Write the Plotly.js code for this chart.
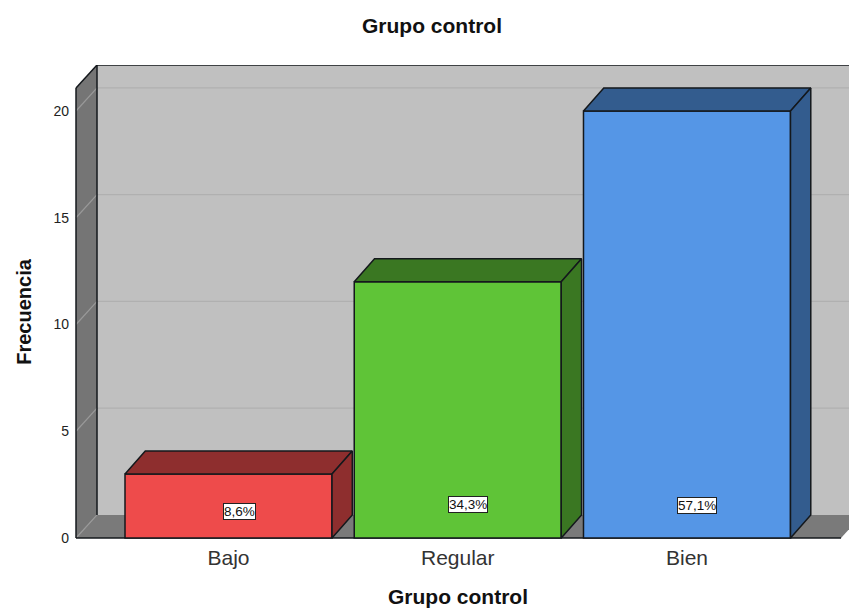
<!DOCTYPE html>
<html>
<head>
<meta charset="utf-8">
<script src="https://cdn.plot.ly/plotly-3.0.1.min.js"></script>
<style>html,body{margin:0;padding:0;background:#fff;overflow:hidden}</style>
</head>
<body>
<div id="chart" style="width:849px;height:608px"></div>
<script>
// Data
var categories = ['Bajo', 'Regular', 'Bien'];
var frequencies = [3, 12, 20];
var percentLabels = ['8,6%', '34,3%', '57,1%'];
var labelHeights = [1.26, 1.55, 1.5];
var yTicks = [0, 5, 10, 15, 20];
var frontColors = ['#EE4B4B', '#5FC437', '#5596E6'];
var sideColors = ['#8E2E2E', '#3A7722', '#335C8E'];

// Styling and pseudo-3D depth, in axis units
var FONT = '"Liberation Sans", Arial, sans-serif';
var barWidth = 0.903;
var depthX = 0.0916;
var barDepthX = 0.0885;
var depthY = 1.08;
var wallLeft = -0.6652;
var floorRight = 2.672;
var xMin = -0.7045, xMax = 2.7067;
var yMin = -0.984, yMax = 22.155;
var xIdx = categories.map(function (_, i) { return i; });

var traces = [{
  type: 'bar', x: xIdx, y: frequencies, width: barWidth,
  marker: { color: frontColors, line: { color: '#14181c', width: 1.5 } },
  hoverinfo: 'skip', showlegend: false
}];

function face(xs, ys, color) {
  return {
    type: 'scatter', mode: 'lines', x: xs, y: ys, fill: 'toself', fillcolor: color,
    line: { color: '#14181c', width: 1.5 }, hoverinfo: 'skip', showlegend: false
  };
}
frequencies.forEach(function (v, i) {
  var l = i - barWidth / 2, r = i + barWidth / 2;
  traces.push(face([l, l + barDepthX, r + barDepthX, r, l], [v, v + depthY, v + depthY, v, v], sideColors[i]));
  traces.push(face([r, r + barDepthX, r + barDepthX, r, r], [0, depthY, v + depthY, v, 0], sideColors[i]));
});

function poly(pts, fill, lineColor, lineWidth) {
  var d = pts.map(function (p, i) { return (i ? 'L' : 'M') + p[0] + ',' + p[1]; }).join(' ') + ' Z';
  return { type: 'path', path: d, xref: 'x', yref: 'y', layer: 'below', fillcolor: fill,
           line: { color: lineColor, width: lineWidth } };
}
function seg(x0, y0, x1, y1, color, width) {
  return { type: 'line', xref: 'x', yref: 'y', layer: 'below', x0: x0, y0: y0, x1: x1, y1: y1,
           line: { color: color, width: width } };
}
var backX = wallLeft + depthX;
var frontTop = yMax - depthY;
var shapes = [
  poly([[backX, depthY], [xMax + 0.2, depthY], [xMax + 0.2, yMax], [backX, yMax]], '#C0C0C0', 'rgba(0,0,0,0)', 0),
  poly([[wallLeft, 0], [backX, depthY], [backX, yMax], [wallLeft, frontTop]], '#757575', 'rgba(0,0,0,0)', 0),
  poly([[wallLeft, 0], [floorRight, 0], [floorRight + depthX, depthY], [backX, depthY]], '#7A7A7A', 'rgba(0,0,0,0)', 0)
];
yTicks.forEach(function (t) {
  if (t > 0) shapes.push(seg(backX, t + depthY, xMax + 0.2, t + depthY, '#B0B0B0', 1.2));
  shapes.push(seg(wallLeft, t, backX, t + depthY, '#999999', 1.2));
});
shapes.push(seg(wallLeft, 0, wallLeft, frontTop, '#14181c', 1.5));
shapes.push(seg(wallLeft, frontTop, backX, yMax, '#14181c', 1.5));
shapes.push(seg(backX, depthY, backX, yMax, '#14181c', 1.5));
shapes.push(seg(backX, yMax, xMax + 0.2, yMax, '#14181c', 1.5));
shapes.push(seg(wallLeft, 0, floorRight, 0, '#14181c', 1.5));

var annotations = percentLabels.map(function (txt, i) {
  return {
    x: i + depthX / 2, y: labelHeights[i], xref: 'x', yref: 'y', text: txt, showarrow: false,
    font: { family: FONT, size: 13.5, color: '#111' }, bgcolor: '#ffffff',
    bordercolor: '#222', borderwidth: 1, borderpad: 0
  };
});

var layout = {
  width: 849, height: 608,
  margin: { l: 67, r: 0, t: 65, b: 49, pad: 0 },
  paper_bgcolor: '#ffffff', plot_bgcolor: '#ffffff',
  font: { family: FONT, color: '#222' },
  title: { text: '<b>Grupo control</b>', x: 432 / 849, xanchor: 'center', xref: 'container',
           y: 1 - 26 / 608, yanchor: 'middle', yref: 'container', font: { family: FONT, size: 21, color: '#111' } },
  bargap: 0.097,
  showlegend: false,
  xaxis: {
    range: [xMin, xMax], tickmode: 'array', tickvals: xIdx, ticktext: categories,
    anchor: 'free', position: 0.0425, showgrid: false, zeroline: false, showline: false,
    ticks: '', ticklabelstandoff: 5, tickfont: { family: FONT, size: 21, color: '#333' },
    title: { text: '<b>Grupo control</b>', standoff: 21, font: { family: FONT, size: 21, color: '#111' } },
    automargin: false
  },
  yaxis: {
    range: [yMin, yMax], tickmode: 'array', tickvals: yTicks, showgrid: false, zeroline: false,
    showline: false, ticks: '', ticklabelstandoff: -3, tickfont: { family: FONT, size: 14, color: '#222' },
    title: { text: '<b>Frecuencia</b>', standoff: 16, font: { family: FONT, size: 20, color: '#111' } },
    automargin: false
  },
  shapes: shapes,
  annotations: annotations
};
Plotly.newPlot('chart', traces, layout, { displayModeBar: false, responsive: false });
</script>
</body>
</html>
